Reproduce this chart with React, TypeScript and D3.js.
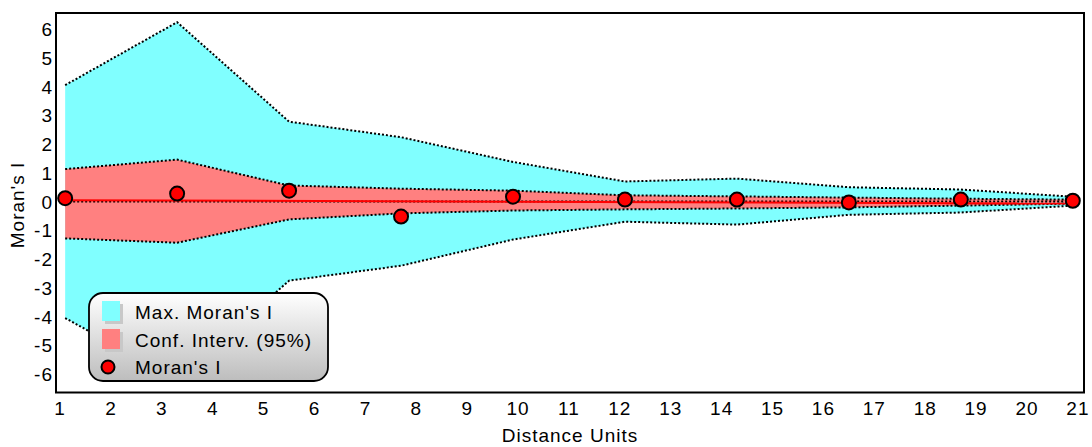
import React from "react";
import * as d3 from "d3";

const lags = [1.1, 3.3, 5.5, 7.7, 9.9, 12.1, 14.3, 16.5, 18.7, 20.9];
const maxUpper = [4.05, 6.24, 2.78, 2.24, 1.38, 0.7, 0.8, 0.5, 0.42, 0.17];
const maxLower = [-4.05, -6.2, -2.75, -2.23, -1.32, -0.7, -0.8, -0.46, -0.38, -0.14];
const confUpper = [1.13, 1.46, 0.56, 0.45, 0.38, 0.22, 0.18, 0.14, 0.1, 0.07];
const confLower = [-1.28, -1.43, -0.62, -0.41, -0.31, -0.27, -0.24, -0.2, -0.14, -0.07];
const moransI = [0.12, 0.28, 0.38, -0.52, 0.17, 0.07, 0.07, -0.03, 0.07, 0.03];
const trendX = [1.1, 20.9];
const trendY = [0.05, -0.07];
const xTicks = d3.range(1, 22);
const yTicks = [6, 5, 4, 3, 2, 1, 0, -1, -2, -3, -4, -5, -6];
const legendItems = ["Max. Moran's I", "Conf. Interv. (95%)", "Moran's I"];

const W = 1092;
const H = 447;
const L = 56, R = 1084, T = 13, B = 392.5;
const FONT = "'Liberation Sans', Arial, sans-serif";

export default function App() {
  const x = d3.scaleLinear().domain([0.92, 21.12]).range([L, R]);
  const y = d3.scaleLinear().domain([-6.64, 6.56]).range([B, T]);

  const area = (up: number[], lo: number[]) =>
    d3
      .area<number>()
      .x((_, i) => x(lags[i]))
      .y0((_, i) => y(lo[i]))
      .y1((_, i) => y(up[i]))(lags.map((_, i) => i)) || "";
  const line = (vals: number[]) =>
    d3
      .line<number>()
      .x((_, i) => x(lags[i]))
      .y((v) => y(v))(vals) || "";
  const trend =
    d3
      .line<number>()
      .x((_, i) => x(trendX[i]))
      .y((v) => y(v))(trendY) || "";

  const dotted = { fill: "none", stroke: "#000", strokeWidth: 2, strokeDasharray: "2 2" };
  const textStyle = { fontFamily: FONT, fontSize: 19, letterSpacing: 1, fill: "#000" };

  const lgX = 89, lgY = 293, lgW = 239, lgH = 88;
  const rowY = [312, 340, 367];

  return (
    <svg
      width={W}
      height={H}
      style={{ position: "absolute", left: 0, top: 0, background: "#fff" }}
    >
      <defs>
        <linearGradient id="lg" x1="0" y1="0" x2="0" y2="1">
          <stop offset="0" stopColor="#ffffff" />
          <stop offset="1" stopColor="#bdbdbd" />
        </linearGradient>
      </defs>
      <path d={area(maxUpper, maxLower)} fill="#80ffff" />
      <path d={area(confUpper, confLower)} fill="#ff8080" />
      <path d={line(maxUpper)} {...dotted} />
      <path d={line(maxLower)} {...dotted} />
      <path d={line(confUpper)} {...dotted} />
      <path d={line(confLower)} {...dotted} />
      <line x1={x(lags[0])} x2={x(lags[lags.length - 1])} y1={y(0)} y2={y(0)} {...dotted} />
      <path d={trend} fill="none" stroke="#ff0000" strokeWidth={2} />
      {moransI.map((v, i) => (
        <circle key={i} cx={x(lags[i])} cy={y(v)} r={7} fill="#ff0000" stroke="#000" strokeWidth={2} />
      ))}
      <rect x={L} y={T} width={R - L} height={B - T} fill="none" stroke="#000" strokeWidth={2} />
      {xTicks.map((t) => (
        <text key={t} x={x(t)} y={415} textAnchor="middle" style={textStyle}>
          {t}
        </text>
      ))}
      {yTicks.map((t) => (
        <text key={t} x={53} y={y(t) + 7} textAnchor="end" style={textStyle}>
          {t}
        </text>
      ))}
      <text x={(L + R) / 2} y={442} textAnchor="middle" style={textStyle}>
        Distance Units
      </text>
      <text transform={`translate(24,205) rotate(-90)`} textAnchor="middle" style={textStyle}>
        Moran's I
      </text>
      <g>
        <rect x={lgX} y={lgY} width={lgW} height={lgH} rx={14} ry={14} fill="url(#lg)" stroke="#000" strokeWidth={1.8} />
        <rect x={105} y={304} width={18} height={20} fill="#c8c8c8" />
        <rect x={102} y={301} width={18} height={20} fill="#80ffff" />
        <rect x={105} y={332} width={18} height={20} fill="#c8c8c8" />
        <rect x={102} y={329} width={18} height={20} fill="#ff8080" />
        <circle cx={108} cy={367} r={6.5} fill="#ff0000" stroke="#000" strokeWidth={2} />
        {legendItems.map((s, i) => (
          <text key={s} x={135} y={rowY[i] + 7} style={textStyle}>
            {s}
          </text>
        ))}
      </g>
    </svg>
  );
}
